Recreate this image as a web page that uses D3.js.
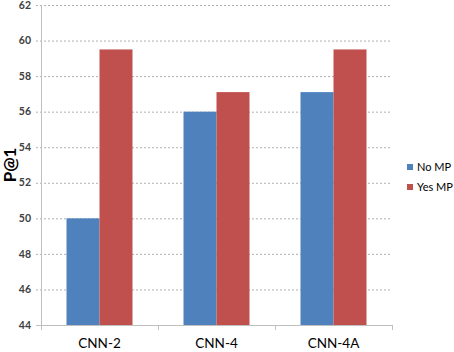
<!DOCTYPE html>
<html>
<head>
<meta charset="utf-8">
<script src="https://cdn.jsdelivr.net/npm/d3@7"></script>
<style>
  body { margin: 0; background: #fff; }
  svg { display: block; font-family: Lato, 'Open Sans', sans-serif; }
</style>
</head>
<body>
<svg></svg>
<script>
const categories = ['CNN-2', 'CNN-4', 'CNN-4A'];
const seriesNames = ['No MP', 'Yes MP'];
const noMP = [50, 56, 57.1];
const yesMP = [59.5, 57.1, 59.5];
const yTicks = [44, 46, 48, 50, 52, 54, 56, 58, 60, 62];

const width = 454;
const height = 352;
const colors = ['#4f81bd', '#c0504d'];

const svg = d3.select('svg').attr('width', width).attr('height', height);

const x = d3.scaleBand().domain(categories).range([41, 392]);
const sub = d3.scaleBand().domain(seriesNames)
    .range([25.5, x.bandwidth() - 25.5]);
const y = d3.scaleLinear().domain([44, 62]).range([325, 5]);

// grid lines
svg.append('g').selectAll('line').data(yTicks).enter().append('line')
    .attr('x1', 36).attr('x2', 392)
    .attr('y1', d => y(d) + 0.5).attr('y2', d => y(d) + 0.5)
    .attr('stroke', '#b0b0b0')
    .attr('stroke-dasharray', '2,2');

// y tick labels
svg.append('g').selectAll('text').data(yTicks).enter().append('text')
    .attr('x', 31).attr('y', d => y(d)).attr('dy', '0.35em')
    .attr('text-anchor', 'end')
    .attr('font-size', 10.5).attr('font-weight', 'bold')
    .attr('fill', '#404040')
    .text(d => d);

// bars
const data = categories.map((c, i) => ({ cat: c, values: [noMP[i], yesMP[i]] }));
const groups = svg.append('g').selectAll('g').data(data).enter().append('g')
    .attr('transform', d => `translate(${x(d.cat)},0)`);
groups.selectAll('rect').data(d => d.values.map((v, j) => ({ key: seriesNames[j], v, j })))
    .enter().append('rect')
    .attr('x', d => sub(d.key))
    .attr('width', sub.bandwidth())
    .attr('y', d => y(d.v))
    .attr('height', d => y(44) - y(d.v))
    .attr('fill', d => colors[d.j]);

// axes lines
svg.append('line').attr('x1', 41.5).attr('x2', 41.5).attr('y1', 5).attr('y2', 330)
    .attr('stroke', '#bfbfbf');
svg.append('line').attr('x1', 36).attr('x2', 392).attr('y1', 325.5).attr('y2', 325.5)
    .attr('stroke', '#bfbfbf');
svg.append('g').selectAll('line').data(categories).enter().append('line')
    .attr('x1', d => x(d) + x.bandwidth() + 0.5).attr('x2', d => x(d) + x.bandwidth() + 0.5)
    .attr('y1', 325).attr('y2', 330)
    .attr('stroke', '#bfbfbf');

// x labels
svg.append('g').selectAll('text').data(categories).enter().append('text')
    .attr('x', d => x(d) + x.bandwidth() / 2)
    .attr('y', 348)
    .attr('text-anchor', 'middle')
    .attr('font-size', 13.5)
    .attr('fill', '#000')
    .text(d => d);

// y title
svg.append('text')
    .attr('transform', `translate(16,${(y(44) + y(62)) / 2}) rotate(-90)`)
    .attr('text-anchor', 'middle')
    .attr('font-size', 17).attr('font-weight', 'bold')
    .text('P@1');

// legend
const legend = svg.append('g').selectAll('g').data(seriesNames).enter().append('g')
    .attr('transform', (d, i) => `translate(407,${164 + 20 * i})`);
legend.append('rect').attr('width', 6).attr('height', 6)
    .attr('fill', (d, i) => colors[i]);
legend.append('text').attr('x', 10).attr('y', 3).attr('dy', '0.35em')
    .attr('font-size', 11)
    .text(d => d);
</script>
</body>
</html>
